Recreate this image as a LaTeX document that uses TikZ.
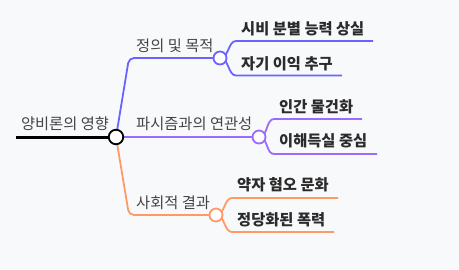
\documentclass[tikz,border=0pt]{standalone}
\usepackage{fontspec}
\newfontfamily\kr{Noto Sans CJK KR}
\definecolor{bgc}{HTML}{F8F9FB}
\definecolor{cblue}{HTML}{6B63FF}
\definecolor{cpurple}{HTML}{9B6BFF}
\definecolor{corange}{HTML}{FF9966}
\definecolor{lblc}{HTML}{444444}
\definecolor{leafc}{HTML}{2B2B2B}
\pgfdeclarelayer{back}
\pgfdeclarelayer{lines}
\pgfsetlayers{back,lines,main}
\begin{document}
\begin{tikzpicture}[x=1pt,y=-1pt,
  dot/.style={circle, fill=white, line width=1.8pt, minimum size=13pt, inner sep=0pt},
  lbl/.style={anchor=base west, inner sep=0pt, font=\kr\fontsize{15.3}{17}\selectfont, text=lblc},
  leaf/.style={anchor=base west, inner sep=0pt, font=\kr\bfseries\fontsize{15.3}{17}\selectfont, text=leafc},
  br/.style={line width=1.8pt}]
\begin{pgfonlayer}{back}
\fill[bgc] (0,0) rectangle (459,269);
\end{pgfonlayer}
\useasboundingbox (0,0) rectangle (459,269);

% nodes
\coordinate (start) at (16,137);
\node[dot, draw=black, minimum size=14.5pt] (root) at (116,137) {};
\node[dot, draw=cblue] (d1) at (220,58) {};
\node[dot, draw=cpurple] (d2) at (259,137) {};
\node[dot, draw=corange] (d3) at (216,215) {};

\node[anchor=base, inner sep=0pt, font=\kr\fontsize{15.3}{17}\selectfont, text=lblc] (troot) at (65,129.5) {양비론의 영향};
\node[lbl] (t1) at (136,51.5) {정의 및 목적};
\node[lbl] (t2) at (136,129.5) {파시즘과의 연관성};
\node[lbl] (t3) at (136,208.5) {사회적 결과};

\node[leaf] (l11) at (241,34.5) {시비 분별 능력 상실};
\node[leaf] (l12) at (241,69.5) {자기 이익 추구};
\node[leaf] (l21) at (279,112.5) {인간 물건화};
\node[leaf] (l22) at (279,146.5) {이해득실 중심};
\node[leaf] (l31) at (237,190.5) {약자 혐오 문화};
\node[leaf] (l32) at (237,225.5) {정당화된 폭력};

\coordinate (e11) at (373,41);
\coordinate (e12) at (342,75.5);
\coordinate (e21) at (362,119);
\coordinate (e22) at (377,154);
\coordinate (e31) at (338,198);
\coordinate (e32) at (334,232);

\begin{pgfonlayer}{lines}
\draw[line width=3pt, black] (start) -- (root.center);
\draw[br, cblue, rounded corners=5pt] (root.center) -- (129,58) -- (d1.center);
\draw[br, cpurple] (root.center) -- (d2.center);
\draw[br, corange, rounded corners=5pt] (root.center) -- (129,215) -- (d3.center);

\draw[br, cblue] (d1.center) .. controls +(9,0) and +(-8,0) .. (236,41) -- (e11);
\draw[br, cblue] (d1.center) .. controls +(9,0) and +(-8,0) .. (236,75.5) -- (e12);
\draw[br, cpurple] (d2.center) .. controls +(9,0) and +(-8,0) .. (274,119) -- (e21);
\draw[br, cpurple] (d2.center) .. controls +(9,0) and +(-8,0) .. (274,154) -- (e22);
\draw[br, corange] (d3.center) .. controls +(9,0) and +(-8,0) .. (232,198) -- (e31);
\draw[br, corange] (d3.center) .. controls +(9,0) and +(-8,0) .. (232,232) -- (e32);
\end{pgfonlayer}
\end{tikzpicture}
\end{document}
